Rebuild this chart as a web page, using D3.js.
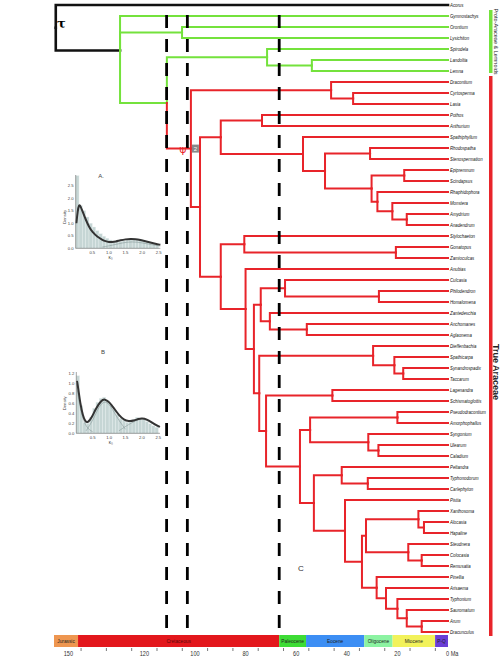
<!DOCTYPE html>
<html><head><meta charset="utf-8">
<script src="https://cdn.jsdelivr.net/npm/d3@7"></script>
<style>body{margin:0;background:#fff}</style>
</head><body>
<svg id="c" width="500" height="660"></svg>
<script>
// ---------- DATA ----------
const treeNewick = "(Acorus,(Gymnostachys,(Orontium,Lysichiton)105.1,((Spirodela,(Landoltia,Lemna)53.8)71.5,((Dracontium,(Cyrtosperma,Lasia)37.5)46.2,(((Pothos,Anthurium)73.5,(Spathiphyllum,((Rhodospatha,Stenospermation)30.8,((Epipremnum,Scindapsus)17.3,(Rhaphidophora,(Monstera,(Amydrium,Anadendrum)16.3)22.0)27.9)30.2)48.6)57.3)89.8,((Stylochaeton,(Gonatopus,Zamioculcas)20.6)80.5,(Anubias,(((Culcasia,(Philodendron,Homalomena)27.3)64.4,(Zantedeschia,(Anchomanes,Aglaonema)55.8)70.4)74.0,((Dieffenbachia,(Spathicarpa,(Synandrospadix,Taccarum)17.7)21.2)29.6,((Lagenandra,Schismatoglottis)45.7,(((Pseudodracontium,Amorphophallus)20.0,(Syngonium,(Ulearum,Caladium)27.5)31.5)54.5,((Peltandra,(Typhonodorum,Carlephyton)31.7)42.0,(Pistia,(((Xanthosoma,(Alocasia,Hapaline)9.5)11.7,(Steudnera,(Colocasia,Remusatia)10.4)15.7)32.4,(Pinellia,(Arisaema,(Typhonium,(Sauromatum,(Arum,Dracunculus)10.4)16.3)20.0)24.5)28.2)34.0)40.7)53.0)58.5)71.9)74.6)76.7)80.0)89.8)98.0)101.6)111.1)129.6)155.0";
const greenCladeFirst = "Gymnostachys";
const redCladeTips = ["Dracontium","Dracunculus"]; // MRCA defines True Araceae
const cladeNames = ["Proto-Araceae & Lemnoids","True Araceae"];
const cladeRanges = [["Gymnostachys","Lemna"],["Dracontium","Dracunculus"]];

const periods = ["Jurassic","Cretaceous","Paleocene","Eocene","Oligocene","Miocene","P-Q"];
const periodStart = [155.7,146.2,66.7,56.1,33.1,21.9,5.1];
const periodEnd   = [146.2,66.7,56.1,33.1,21.9,5.1,0];
const periodColors = ["#ee9650","#e3171c","#3ddc35","#3c8ef4","#8cf3a2","#f2f25a","#6a3ed6"];
const axisLabels = [150,120,100,80,60,40,20,0];
const minorTicks = [5,15,25,35,45,55,65,75,85,95,105,115,125,135,145];
const dashedAges = [111.2,103.0,66.7];

// Inset A
const densA_x = [0.02,0.06,0.1,0.14,0.2,0.3,0.4,0.5,0.65,0.8,0.9,1.0,1.1,1.2,1.35,1.5,1.65,1.8,1.95,2.1,2.25,2.4,2.55];
const densA_y = [1.0,1.5,1.75,1.7,1.5,1.15,0.86,0.65,0.46,0.34,0.28,0.25,0.25,0.27,0.32,0.36,0.38,0.37,0.33,0.28,0.23,0.18,0.14];
const histA = [2.9,1.7,1.5,1.25,1.0,0.85,0.7,0.58,0.48,0.4,0.33,0.28,0.26,0.27,0.3,0.33,0.36,0.38,0.37,0.34,0.3,0.26,0.22,0.18,0.15];
const compA_x = [0.8,1.1,1.4,1.7,2.0,2.3,2.55];
const compA_y = [0.05,0.12,0.22,0.27,0.22,0.14,0.09];
const ticksA_y = [0,0.5,1.0,1.5,2.0,2.5];
// Inset B
const densB_x = [0.02,0.06,0.12,0.2,0.28,0.36,0.46,0.6,0.75,0.87,1.0,1.15,1.3,1.45,1.6,1.75,1.9,2.0,2.15,2.3,2.45,2.55];
const densB_y = [1.05,0.9,0.6,0.35,0.22,0.22,0.3,0.5,0.65,0.69,0.63,0.5,0.36,0.27,0.24,0.25,0.29,0.3,0.28,0.22,0.16,0.13];
const histB = [1.15,0.55,0.22,0.2,0.32,0.5,0.62,0.7,0.72,0.66,0.58,0.48,0.38,0.3,0.26,0.22,0.24,0.28,0.32,0.3,0.27,0.23,0.19,0.15,0.12];
const compB1_x = [0,0.1,0.2,0.3,0.4,0.5], compB1_y = [1.0,0.55,0.28,0.14,0.07,0.03];
const compB2_x = [0.3,0.5,0.7,0.87,1.05,1.25,1.5], compB2_y = [0.05,0.25,0.55,0.66,0.55,0.3,0.08];
const compB3_x = [1.3,1.6,1.9,2.0,2.2,2.5], compB3_y = [0.05,0.18,0.28,0.29,0.25,0.12];
const ticksB_y = [0,0.2,0.4,0.6,0.8,1.0,1.2];
const ticksX = [0.5,1.0,1.5,2.0,2.5];

// ---------- PARSE ----------
function parseNewick(s){
  let i=0;
  function node(){
    const n={};
    if(s[i]==='('){
      n.children=[]; i++;
      n.children.push(node());
      while(s[i]===','){ i++; n.children.push(node()); }
      i++;
    }
    let lab='';
    while(i<s.length && !',()'.includes(s[i])) lab+=s[i++];
    if(n.children){ n.age=+lab; } else { n.name=lab; n.age=0; }
    return n;
  }
  return node();
}

const svg = d3.select("#c");
const root = d3.hierarchy(parseNewick(treeNewick));
const leaves = root.leaves();

const x = d3.scaleLinear().domain([155.7,0]).range([54,448]);
const y = d3.scaleLinear().domain([0,leaves.length-1]).range([5,632]);

leaves.forEach((l,i)=>{ l.yy = y(i); });
root.eachAfter(n=>{ if(n.children) n.yy = d3.mean(n.children,c=>c.yy); n.xx = x(n.data.age); });

const byName = {}; leaves.forEach(l=>byName[l.data.name]=l);
const redRoot = byName[redCladeTips[0]].ancestors().find(a=>a.leaves().includes(byName[redCladeTips[1]]));
const greenRoot = byName[greenCladeFirst].parent;

const RED="#e8242a", GREEN="#74e23c", BLACK="#111";
root.each(n=>{ n.col = BLACK; });
greenRoot.descendants().forEach(n=>{ if(n!==greenRoot) n.col=GREEN; });
redRoot.descendants().forEach(n=>n.col=RED);

const NARROW = "Liberation Sans Narrow, Liberation Sans, Arial, sans-serif";

// ---------- TIME BAR ----------
const barY=635, barH=12;
const pg = svg.append("g");
periods.forEach((p,i)=>{
  pg.append("rect").attr("x",x(periodStart[i])).attr("y",barY).attr("width",x(periodEnd[i])-x(periodStart[i])).attr("height",barH).attr("fill",periodColors[i]);
  const cx=(x(periodStart[i])+x(periodEnd[i]))/2;
  pg.append("text").attr("transform",`translate(${cx},${barY+8.3}) scale(0.8,1)`)
    .attr("text-anchor","middle").attr("font-size",6).attr("font-family",NARROW)
    .attr("fill", i===1?"#5a0a0a":"#222").text(p);
});
minorTicks.forEach(t=>{
  pg.append("line").attr("x1",x(t)).attr("x2",x(t)).attr("y1",barY+barH+1).attr("y2",barY+barH+4).attr("stroke","#555").attr("stroke-width",0.8);
});
axisLabels.forEach(t=>{
  pg.append("text").attr("transform",`translate(${x(t)+(t===0?-2:0)},656) scale(0.8,1)`).attr("text-anchor", t===0?"start":"middle")
   .attr("font-size",7).attr("font-family",NARROW).attr("fill","#333")
   .text(t===0?"0 Ma":t);
});

// ---------- TREE ----------
const tg = svg.append("g").attr("fill","none").attr("stroke-linecap","square");
root.descendants().filter(n=>n.parent).forEach(n=>{
  tg.append("path").attr("d",`M${n.parent.xx},${n.parent.yy}V${n.yy}H${n.xx}`)
    .attr("stroke",n.col).attr("stroke-width", n.col===BLACK?2.6:2);
});

// dashed lines
dashedAges.forEach(a=>{
  svg.append("line").attr("x1",x(a)).attr("x2",x(a)).attr("y1",15).attr("y2",628)
    .attr("stroke","#000").attr("stroke-width",2.8).attr("stroke-dasharray","13,11");
});

// marker near True Araceae root
svg.append("text").attr("x",redRoot.xx-8).attr("y",redRoot.yy+4).attr("text-anchor","middle")
  .attr("font-size",11).attr("fill",RED).attr("font-family","DejaVu Sans").text("ψ");
svg.append("rect").attr("x",redRoot.xx+1).attr("y",redRoot.yy-4).attr("width",7).attr("height",8).attr("fill","#888");
svg.append("text").attr("x",redRoot.xx+4.5).attr("y",redRoot.yy+2.5).attr("text-anchor","middle").attr("font-size",6).attr("fill","#fff").attr("font-family","Liberation Sans").text("2");

// tip labels
leaves.forEach(l=>{
  svg.append("text").attr("transform",`translate(450,${l.yy+2}) scale(0.72,1)`).attr("font-size",6).attr("font-style","italic")
    .attr("font-family",NARROW).attr("fill","#111").text(l.data.name);
});

// clade bars
const cladeColors=[GREEN,RED];
cladeRanges.forEach((r,i)=>{
  const y0=byName[r[0]].yy-6, y1=byName[r[1]].yy+(i===0?2:4);
  svg.append("rect").attr("x",489).attr("y",y0).attr("width",3.5).attr("height",y1-y0).attr("fill",cladeColors[i]);
  const cy=i===0?(y0+y1)/2:372;
  svg.append("text").attr("transform",`translate(${i===0?494:493},${cy}) rotate(90)`).attr("text-anchor","middle")
    .attr("font-size",i===0?5.5:9).attr("font-weight",i===0?"normal":"bold")
    .attr("font-family",NARROW).attr("fill","#222").text(cladeNames[i]);
});

svg.append("text").attr("x",57).attr("y",28).attr("font-size",13).attr("font-weight","bold").attr("font-family","DejaVu Serif").text("τ");
svg.append("text").attr("x",298).attr("y",571).attr("font-size",8).attr("font-family","Liberation Sans").attr("fill","#333").text("C");

// ---------- INSETS ----------
function inset(opts){
  const g=svg.append("g");
  const ix=d3.scaleLinear().domain([0,2.5]).range(opts.xr);
  const iy=d3.scaleLinear().domain([0,opts.ymax]).range(opts.yr);
  const bw=ix(0.1)-ix(0);
  opts.hist.forEach((h,i)=>{
    g.append("rect").attr("x",ix(i*0.1)).attr("y",iy(h)).attr("width",bw).attr("height",iy(0)-iy(h))
     .attr("fill","#c6d6d5").attr("stroke","#e6eeee").attr("stroke-width",0.4);
  });
  opts.comps.forEach(c=>{
    g.append("path").attr("d",d3.line().curve(d3.curveBasis).x((d,i)=>ix(c[0][i])).y(d=>iy(d))(c[1]))
      .attr("fill","none").attr("stroke","#8a9a9a").attr("stroke-width",0.6);
  });
  g.append("path").attr("d",d3.line().curve(d3.curveBasis).x((d,i)=>ix(opts.dx[i])).y(d=>iy(d))(opts.dy))
    .attr("fill","none").attr("stroke","#333").attr("stroke-width",2);
  // axes
  g.append("line").attr("x1",ix(0)).attr("x2",ix(0)).attr("y1",opts.axTop).attr("y2",iy(0)).attr("stroke","#666").attr("stroke-width",0.6);
  g.append("line").attr("x1",ix(0)).attr("x2",ix(2.55)).attr("y1",iy(0)).attr("y2",iy(0)).attr("stroke","#666").attr("stroke-width",0.6);
  opts.yt.forEach(t=>{
    g.append("text").attr("x",ix(0)-2).attr("y",iy(t)+1.5).attr("text-anchor","end").attr("font-size",4.2).attr("fill","#444")
     .attr("font-family","Liberation Sans").text(t.toFixed(1));
  });
  ticksX.forEach(t=>{
    g.append("text").attr("x",ix(t)).attr("y",iy(0)+6).attr("text-anchor","middle").attr("font-size",4.2).attr("fill","#444")
     .attr("font-family","Liberation Sans").text(t.toFixed(1));
  });
  g.append("text").attr("transform",`translate(${ix(0)-10},${(iy(0)+opts.yr[1])/2}) rotate(-90)`).attr("text-anchor","middle")
    .attr("font-size",4.2).attr("fill","#444").attr("font-family","Liberation Sans").text("Density");
  g.append("text").attr("x",ix(1.05)).attr("y",iy(0)+11).attr("text-anchor","middle").attr("font-size",4.5).attr("fill","#444")
    .attr("font-family","Liberation Sans").text("κ₀");
  g.append("text").attr("x",opts.lab[0]).attr("y",opts.lab[1]).attr("text-anchor","middle").attr("font-size",6).attr("fill","#444")
    .attr("font-family","Liberation Sans").text(opts.lab[2]);
}
inset({xr:[75.7,158.7], yr:[248.3,185.7], ymax:2.5, hist:histA, dx:densA_x, dy:densA_y, comps:[[compA_x,compA_y]], yt:ticksA_y, axTop:175, lab:[101,178,"A."]});
inset({xr:[76.3,158.3], yr:[433.3,373.3], ymax:1.2, hist:histB, dx:densB_x, dy:densB_y, comps:[[compB1_x,compB1_y],[compB2_x,compB2_y],[compB3_x,compB3_y]], yt:ticksB_y, axTop:372, lab:[103,354,"B"]});
</script>
</body></html>
